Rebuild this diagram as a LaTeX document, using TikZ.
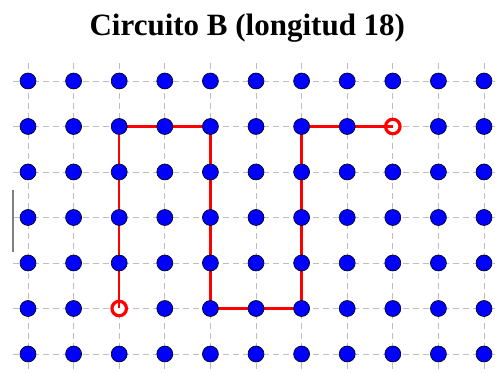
\documentclass[tikz,border=0pt]{standalone}
\usepackage{fontspec}
\setmainfont{Liberation Serif}
\usetikzlibrary{arrows.meta,positioning}
\definecolor{gridgray}{RGB}{190,190,190}
\definecolor{axisgray}{RGB}{128,128,128}

\begin{document}
\begin{tikzpicture}[
    x=45.6pt, y=45.5pt,
    dot/.style={circle, draw=black, line width=0.6pt, fill=blue,
                inner sep=0pt, minimum size=16pt},
    endpt/.style={circle, draw=red, line width=3.2pt, fill=white,
                  inner sep=0pt, minimum size=14.5pt},
    gridline/.style={gridgray, line width=0.9pt, dash pattern=on 6pt off 4pt},
    route/.style={red, line width=2.5pt}
]
\useasboundingbox (-0.614,-0.396) rectangle (10.241,7.780);

\node[font=\bfseries\fontsize{31}{36}\selectfont] (title) at (4.81,7.16) {Circuito B (longitud 18)};

% dashed grid
\foreach \r in {0,...,6}
  \draw[gridline] (-0.33,\r) -- (10.241,\r);
\foreach \c in {0,...,10}
  \draw[gridline] (\c,6.40) -- (\c,-0.396);
\draw[axisgray, line width=1.2pt] (-0.33,2.24) -- (-0.33,3.60);

% ends of the circuit
\node[endpt] (start) at (2,1) {};
\node[endpt] (stop) at (8,5) {};

% lattice points
\foreach \c in {0,...,10}
  \foreach \r in {0,...,6}
    \coordinate (p-\c-\r) at (\c,\r);

\draw[route] (start.center) -- (p-2-5) -- (p-4-5) -- (p-4-1) -- (p-6-1)
  -- (p-6-5) -- (stop.center);

\foreach \c in {0,...,10}
  \foreach \r in {0,...,6}{
    \ifnum\c=2 \ifnum\r=1 \else \node[dot] (d-\c-\r) at (p-\c-\r) {};\fi
    \else\ifnum\c=8 \ifnum\r=5 \else \node[dot] (d-\c-\r) at (p-\c-\r) {};\fi
    \else \node[dot] (d-\c-\r) at (p-\c-\r) {};\fi\fi
  }
\end{tikzpicture}
\end{document}
